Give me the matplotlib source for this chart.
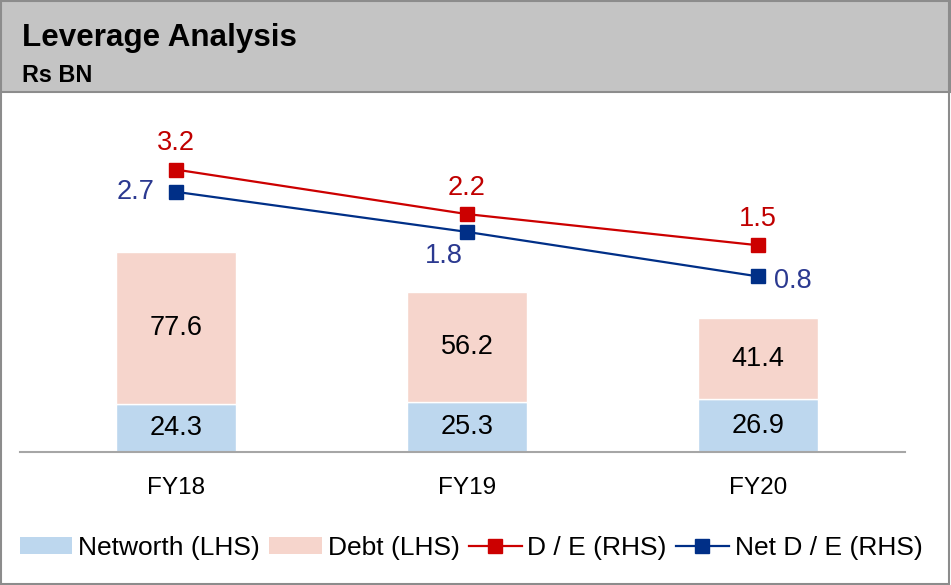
import matplotlib.pyplot as plt
from matplotlib.patches import Rectangle
from matplotlib.lines import Line2D
from matplotlib.patches import Patch
import numpy as np

plt.rcParams['font.family'] = ['Liberation Sans', 'DejaVu Sans']

# data
years = ["FY18", "FY19", "FY20"]
networth = [24.3, 25.3, 26.9]
debt = [77.6, 56.2, 41.4]
de_ratio = [3.2, 2.2, 1.5]
net_de_ratio = [2.7, 1.8, 0.8]

# colours
c_networth = '#BDD7EE'
c_debt = '#F6D5CC'
c_red = '#CC0000'
c_navy = '#002F87'
c_red_txt = '#C00000'
c_navy_txt = '#2B3990'

W, H = 951, 585
fig = plt.figure(figsize=(W / 100, H / 100), dpi=100)

# header band + outer border
fig.patches.append(Rectangle((0, 1 - 92 / H), 1, 92 / H, transform=fig.transFigure,
                             facecolor='#C4C4C4', edgecolor='#8C8C8C', linewidth=1.5, zorder=0))
fig.patches.append(Rectangle((0.001, 0.001), 0.997, 0.997, transform=fig.transFigure,
                             facecolor='none', edgecolor='#8C8C8C', linewidth=1.5, zorder=5))
fig.text(22 / W, 1 - 46 / H, "Leverage Analysis", fontsize=22.6, fontweight='bold', va='baseline')
fig.text(22 / W, 1 - 82 / H, "Rs BN", fontsize=16.8, fontweight='bold', va='baseline')

ax = fig.add_axes([20 / W, 1 - 452 / H, 885 / W, 352 / H])
x = np.arange(len(years))
bw = 120 / 291
ax.bar(x, networth, bw, color=c_networth, edgecolor='white', linewidth=1)
ax.bar(x, debt, bw, bottom=networth, color=c_debt, edgecolor='white', linewidth=1)

for i in range(len(years)):
    ax.text(x[i], networth[i] / 2, f"{networth[i]:.1f}", ha='center', va='center', fontsize=19.5)
    ax.text(x[i], networth[i] + debt[i] / 2, f"{debt[i]:.1f}", ha='center', va='center', fontsize=19.5)

ax.set_xlim(-156 / 291, 729 / 291)
ax.set_ylim(0, 352 / 1.963)
ax.set_xticks(x)
ax.set_xticklabels(years, fontsize=17.5)
ax.tick_params(axis='x', length=0, pad=18)
ax.set_yticks([])
for s in ['top', 'left', 'right']:
    ax.spines[s].set_visible(False)
ax.spines['bottom'].set_color('#A6A6A6')
ax.spines['bottom'].set_linewidth(1.5)

ax2 = ax.twinx()
ax2.plot(x, de_ratio, color=c_red, linewidth=1.6, marker='s', markersize=10.5)
ax2.plot(x, net_de_ratio, color=c_navy, linewidth=1.6, marker='s', markersize=10.5)
ax2.set_ylim(-140 / 44.5, 212 / 44.5)
ax2.set_yticks([])
for s in ax2.spines.values():
    s.set_visible(False)

for i in range(len(years)):
    ax2.annotate(f"{de_ratio[i]:.1f}", (x[i], de_ratio[i]), xytext=(0, 19), textcoords='offset points',
                 ha='center', va='center', fontsize=19.5, color=c_red_txt)
net_offsets = [(-29, 0), (-17, -17), (25, -3)]
for i in range(len(years)):
    ax2.annotate(f"{net_de_ratio[i]:.1f}", (x[i], net_de_ratio[i]), xytext=net_offsets[i],
                 textcoords='offset points', ha='center', va='center', fontsize=19.5, color=c_navy_txt)

handles = [
    Patch(facecolor=c_networth, edgecolor='none'),
    Patch(facecolor=c_debt, edgecolor='none'),
    Line2D([], [], color=c_red, linewidth=1.6, marker='s', markersize=10.5),
    Line2D([], [], color=c_navy, linewidth=1.6, marker='s', markersize=10.5),
]
labels = ["Networth (LHS)", "Debt (LHS)", "D / E (RHS)", "Net D / E (RHS)"]
fig.legend(handles, labels, loc='center', bbox_to_anchor=(471 / W, 1 - 548 / H), ncol=4,
           frameon=False, fontsize=19, handlelength=2.0, handleheight=0.6,
           handletextpad=0.22, columnspacing=0.35, borderpad=0)

fig.savefig('out.png', dpi=100)
